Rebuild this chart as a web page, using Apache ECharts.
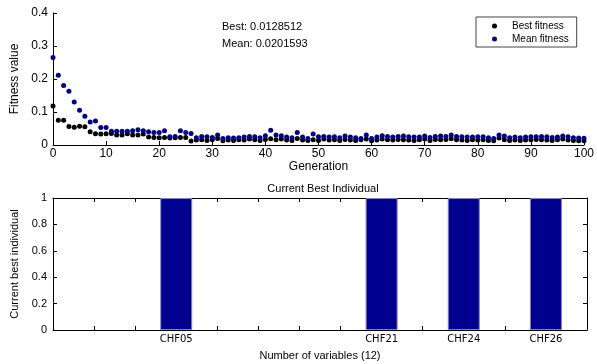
<!DOCTYPE html>
<html><head><meta charset="utf-8">
<script src="https://cdn.jsdelivr.net/npm/echarts@6/dist/echarts.min.js"></script>
<style>html,body{margin:0;padding:0;background:#fff}#c{width:597px;height:364px}</style>
</head><body><div id="c"></div>
<script>
// Fitness per generation (0..100)
const bestFitness = [
  0.118,0.075,0.075,0.056,0.054,0.057,0.055,0.040,0.034,0.033,
  0.034,0.035,0.030,0.030,0.034,0.030,0.030,0.033,0.024,0.023,
  0.022,0.023,0.021,0.022,0.023,0.023,0.012,0.015,0.016,0.014,
  0.016,0.020,0.013,0.015,0.014,0.016,0.015,0.018,0.016,0.014,
  0.017,0.019,0.016,0.018,0.015,0.014,0.020,0.015,0.014,0.016,
  0.014,0.018,0.015,0.016,0.014,0.017,0.015,0.014,0.016,0.018,
  0.013,0.015,0.018,0.016,0.015,0.017,0.016,0.015,0.014,0.016,
  0.018,0.014,0.017,0.016,0.017,0.019,0.016,0.015,0.014,0.016,
  0.015,0.016,0.014,0.013,0.021,0.016,0.014,0.015,0.014,0.015,
  0.016,0.017,0.016,0.015,0.014,0.016,0.018,0.015,0.014,0.013,
  0.0128512
];
const meanFitness = [
  0.265,0.211,0.180,0.163,0.130,0.105,0.087,0.070,0.073,0.053,
  0.053,0.042,0.042,0.042,0.042,0.043,0.046,0.043,0.040,0.038,
  0.038,0.043,0.025,0.026,0.043,0.038,0.035,0.022,0.026,0.025,
  0.023,0.030,0.020,0.022,0.021,0.022,0.024,0.026,0.025,0.022,
  0.028,0.045,0.030,0.028,0.024,0.022,0.038,0.024,0.020,0.033,
  0.025,0.026,0.024,0.025,0.022,0.027,0.024,0.022,0.020,0.030,
  0.020,0.024,0.028,0.026,0.024,0.026,0.027,0.025,0.024,0.024,
  0.027,0.023,0.026,0.027,0.026,0.030,0.026,0.025,0.024,0.024,
  0.025,0.025,0.022,0.020,0.030,0.027,0.022,0.024,0.022,0.024,
  0.025,0.025,0.026,0.025,0.023,0.024,0.027,0.025,0.022,0.021,
  0.0201593
];
const bestText = 'Best: 0.0128512';
const meanText = 'Mean: 0.0201593';

// Current best individual
const varPositions = [3, 8, 10, 12];
const varNames = ['CHF05', 'CHF21', 'CHF24', 'CHF26'];
const varValues = [1, 1, 1, 1];
const numVariables = 12;

const FONT = 'Liberation Sans';
const chart = echarts.init(document.getElementById('c'), null, {renderer: 'canvas'});
const axisBase = {
  axisLine: {show: true, onZero: false, lineStyle: {color: '#000', width: 1}},
  axisTick: {show: true, inside: true, length: 4, lineStyle: {color: '#000'}},
  splitLine: {show: false},
  axisLabel: {color: '#000', fontFamily: FONT, fontSize: 12}
};
const nameStyle = {color: '#000', fontFamily: FONT, fontSize: 12};

chart.setOption({
  animation: false,
  backgroundColor: '#fff',
  title: {
    text: 'Current Best Individual', left: 318, top: 178, textAlign: 'center',
    textStyle: {color: '#000', fontFamily: FONT, fontSize: 11, fontWeight: 'normal'}
  },
  legend: {
    orient: 'vertical', left: 476, top: 17, padding: [4, 8, 3, 16], itemGap: 3,
    itemWidth: 25, itemHeight: 5, borderColor: '#444', borderWidth: 1,
    textStyle: {color: '#000', fontFamily: FONT, fontSize: 10},
    data: ['Best fitness', 'Mean fitness']
  },
  graphic: [
    {type: 'text', left: 222, top: 21, style: {text: bestText, fill: '#000', font: '11px "Liberation Sans"'}},
    {type: 'text', left: 222, top: 38, style: {text: meanText, fill: '#000', font: '11px "Liberation Sans"'}}
  ],
  grid: [
    {left: 53, right: 9, top: 13, bottom: 219},
    {left: 53, right: 10, top: 198, bottom: 34}
  ],
  xAxis: [
    Object.assign({}, axisBase, {
      gridIndex: 0, type: 'value', min: 0, max: 100, interval: 10,
      name: 'Generation', nameLocation: 'middle', nameGap: 14, nameTextStyle: nameStyle,
      axisLabel: Object.assign({}, axisBase.axisLabel, {margin: 3})
    }),
    Object.assign({}, axisBase, {
      gridIndex: 1, type: 'value', position: 'bottom', min: 0, max: numVariables + 1, interval: 1,
      name: 'Number of variables (' + numVariables + ')', nameLocation: 'middle', nameGap: 20,
      nameTextStyle: Object.assign({}, nameStyle, {fontSize: 11}),
      axisLabel: {color: '#000', fontFamily: 'DejaVu Sans', fontSize: 10, margin: 4,
        formatter: v => { const i = varPositions.indexOf(v); return i >= 0 ? varNames[i] : ''; }}
    }),
    Object.assign({}, axisBase, {
      gridIndex: 1, type: 'value', position: 'top', min: 0, max: numVariables + 1, interval: 1,
      axisLabel: {show: false}
    })
  ],
  yAxis: [
    Object.assign({}, axisBase, {
      gridIndex: 0, type: 'value', min: 0, max: 0.4, interval: 0.1,
      name: 'Fitness value', nameLocation: 'middle', nameGap: 31, nameTextStyle: nameStyle,
      axisLabel: Object.assign({}, axisBase.axisLabel, {margin: 5})
    }),
    Object.assign({}, axisBase, {
      gridIndex: 1, type: 'value', position: 'left', min: 0, max: 1, interval: 0.2,
      name: 'Current best individual', nameLocation: 'middle', nameGap: 30,
      nameTextStyle: Object.assign({}, nameStyle, {fontSize: 11}),
      axisLabel: Object.assign({}, axisBase.axisLabel, {fontSize: 11, margin: 6})
    }),
    Object.assign({}, axisBase, {
      gridIndex: 1, type: 'value', position: 'right', min: 0, max: 1, interval: 0.2,
      axisLabel: {show: false}
    })
  ],
  series: [
    {
      name: 'Best fitness', type: 'scatter', xAxisIndex: 0, yAxisIndex: 0,
      symbol: 'circle', symbolSize: 5, itemStyle: {color: '#000', opacity: 1},
      data: bestFitness.map((v, i) => [i, v])
    },
    {
      name: 'Mean fitness', type: 'scatter', xAxisIndex: 0, yAxisIndex: 0,
      symbol: 'circle', symbolSize: 5, itemStyle: {color: '#000080', opacity: 1},
      data: meanFitness.map((v, i) => [i, v])
    },
    {
      name: 'Current best individual', type: 'bar', xAxisIndex: 1, yAxisIndex: 1,
      barWidth: 32, itemStyle: {color: '#00008f', borderColor: '#8080c0', borderWidth: 1},
      data: varPositions.map((p, i) => [p, varValues[i]])
    }
  ]
});
</script></body></html>
